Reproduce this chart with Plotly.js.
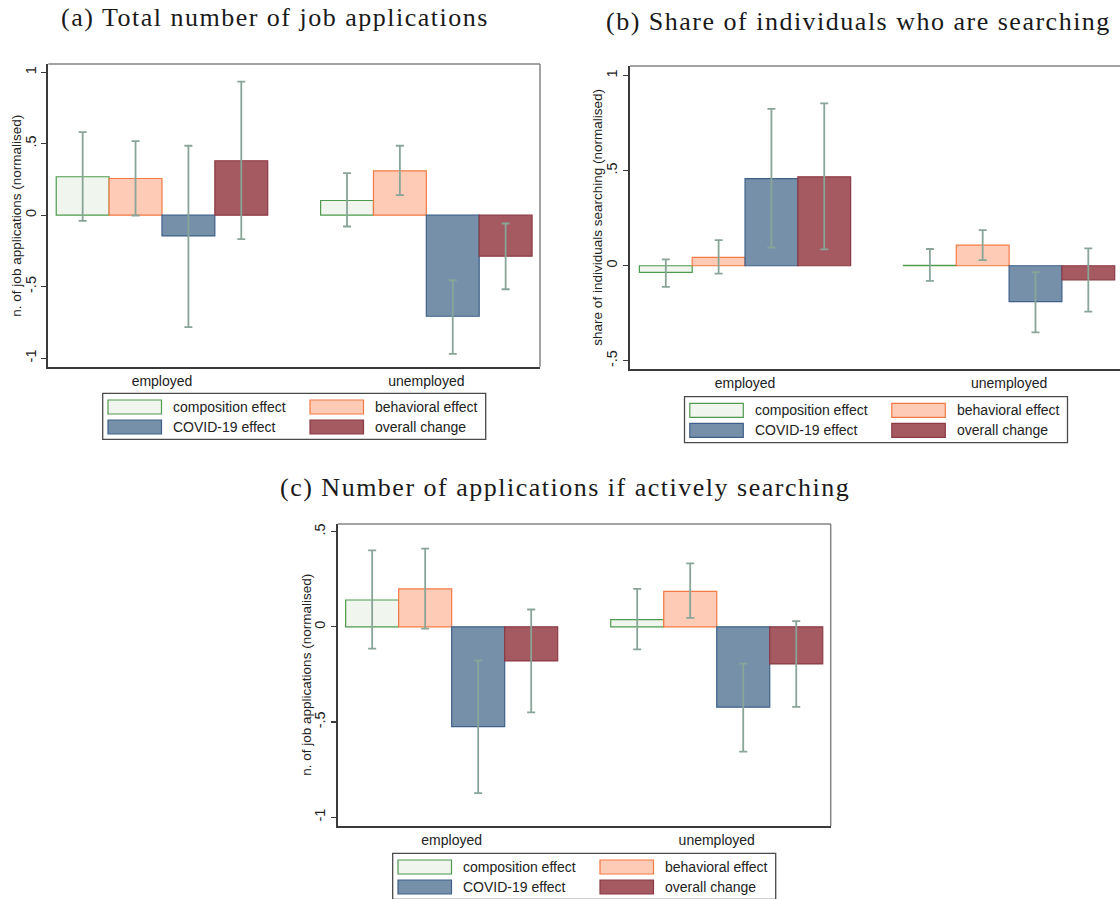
<!DOCTYPE html>
<html>
<head>
<meta charset="utf-8">
<script src="https://cdn.plot.ly/plotly-3.0.1.min.js"></script>
<style>
  html, body { margin: 0; padding: 0; background: #fff; }
  #chart { width: 1120px; height: 899px; }
</style>
</head>
<body>
<div id="chart"></div>
<script>
// ---- data ----
const groups = ['employed', 'unemployed'];
const seriesNames = ['composition effect', 'behavioral effect', 'COVID-19 effect', 'overall change'];
const yTickVals = [1, 0.5, 0, -0.5, -1];
const yTickText = ['1', '.5', '0', '-.5', '-1'];

// (a) total number of job applications: estimate, upper and lower bound
const aComp = [0.269, 0.103],   aCompHi = [0.581, 0.294],   aCompLo = [-0.040, -0.079];
const aBehav = [0.257, 0.310],  aBehavHi = [0.519, 0.486],  aBehavLo = [-0.002, 0.140];
const aCovid = [-0.145, -0.707], aCovidHi = [0.486, -0.455], aCovidLo = [-0.783, -0.970];
const aOverall = [0.381, -0.287], aOverallHi = [0.934, -0.058], aOverallLo = [-0.168, -0.518];

// (b) share of individuals who are searching
const bComp = [-0.035, 0.002],  bCompHi = [0.033, 0.088],   bCompLo = [-0.111, -0.080];
const bBehav = [0.044, 0.108],  bBehavHi = [0.135, 0.187],  bBehavLo = [-0.042, 0.030];
const bCovid = [0.458, -0.189], bCovidHi = [0.825, -0.034], bCovidLo = [0.096, -0.351];
const bOverall = [0.468, -0.075], bOverallHi = [0.854, 0.091], bOverallLo = [0.086, -0.241];

// (c) number of applications if actively searching
const cComp = [0.141, 0.038],   cCompHi = [0.402, 0.199],   cCompLo = [-0.115, -0.118];
const cBehav = [0.199, 0.186],  cBehavHi = [0.411, 0.333],  cBehavLo = [-0.009, 0.047];
const cCovid = [-0.524, -0.422], cCovidHi = [-0.176, -0.193], cCovidLo = [-0.873, -0.655];
const cOverall = [-0.179, -0.195], cOverallHi = [0.091, 0.030], cOverallLo = [-0.449, -0.420];

const panelTitles = [
  '(a) Total number of job applications',
  '(b) Share of individuals who are searching',
  '(c) Number of applications if actively searching'
];
const yTitles = [
  'n. of job applications (normalised)',
  'share of individuals searching (normalised)',
  'n. of job applications (normalised)'
];

// ---- styles ----
const W = 1120, H = 899;
const px = v => v / W;
const py = v => 1 - v / H;
const fills = ['#f0f5ee', '#fdcbb6', '#7690aa', '#a45a60'];
const edges = ['#4e9a4e', '#f47a45', '#3f6088', '#8c3a44'];
const errColor = '#88a597';
const sans = 'Liberation Sans, Arial, sans-serif';
const serif = 'Liberation Serif, Times New Roman, serif';

function barTraces(sets, xa, ya) {
  return sets.map((s, i) => ({
    type: 'bar',
    x: [0, 1],
    y: s[0],
    name: seriesNames[i],
    xaxis: xa, yaxis: ya,
    showlegend: false,
    marker: { color: fills[i], line: { color: edges[i], width: 1.2 } },
    error_y: {
      type: 'data', symmetric: false,
      array: s[1].map((h, k) => h - s[0][k]),
      arrayminus: s[2].map((l, k) => s[0][k] - l),
      color: errColor, thickness: 1.8, width: 4
    },
    hoverinfo: 'skip'
  }));
}

const data = [].concat(
  barTraces([[aComp, aCompHi, aCompLo], [aBehav, aBehavHi, aBehavLo],
             [aCovid, aCovidHi, aCovidLo], [aOverall, aOverallHi, aOverallLo]], 'x', 'y'),
  barTraces([[bComp, bCompHi, bCompLo], [bBehav, bBehavHi, bBehavLo],
             [bCovid, bCovidHi, bCovidLo], [bOverall, bOverallHi, bOverallLo]], 'x2', 'y2'),
  barTraces([[cComp, cCompHi, cCompLo], [cBehav, cBehavHi, cBehavLo],
             [cCovid, cCovidHi, cCovidLo], [cOverall, cOverallHi, cOverallLo]], 'x3', 'y3')
);

// panel boxes in pixels: left, right, top, bottom, and axis ranges
const panels = [
  { l: 48.3, r: 540, t: 64, b: 366.7, xr: [-0.43, 1.43], yr: [-1.06, 1.058], right: true,
    legL: 102.7, legT: 393.3, titleX: 275, titleY: 18 },
  { l: 630, r: 1120, t: 66, b: 369.3, xr: [-0.4356, 1.42], yr: [-0.545, 1.051], right: false,
    legL: 684.5, legT: 396.7, titleX: 858, titleY: 21 },
  { l: 337.7, r: 830.7, t: 524, b: 826, xr: [-0.43, 1.43], yr: [-1.046, 0.540], right: true,
    legL: 392.7, legT: 853.3, titleX: 565, titleY: 487 }
];

const layout = {
  width: W, height: H,
  margin: { l: 0, r: 0, t: 0, b: 0 },
  paper_bgcolor: '#fff', plot_bgcolor: '#fff',
  barmode: 'group', bargap: 0.2, bargroupgap: 0,
  showlegend: false,
  font: { family: sans, size: 14, color: '#222' },
  shapes: [], annotations: []
};

panels.forEach((p, i) => {
  const sfx = i === 0 ? '' : String(i + 1);
  layout['xaxis' + sfx] = {
    domain: [px(p.l), px(p.r)], range: p.xr, anchor: 'y' + sfx,
    tickmode: 'array', tickvals: [0, 1], ticktext: groups, ticks: '',
    ticklabelstandoff: 0,
    showline: true, linecolor: '#3a3a3a', linewidth: 2,
    showgrid: false, zeroline: false, fixedrange: true,
    tickfont: { family: sans, size: 14, color: '#222' }
  };
  layout['yaxis' + sfx] = {
    domain: [py(p.b), py(p.t)], range: p.yr, anchor: 'x' + sfx,
    tickmode: 'array', tickvals: yTickVals, ticktext: yTickText,
    ticks: 'outside', ticklen: 5, tickwidth: 1.2, tickcolor: '#3a3a3a', tickangle: -90,
    showline: true, linecolor: '#3a3a3a', linewidth: 2,
    showgrid: false, zeroline: false, fixedrange: true,
    tickfont: { family: sans, size: 14.5, color: '#222' }
  };
  // lighter top and right frame lines
  layout.shapes.push({ type: 'line', xref: 'paper', yref: 'paper',
    x0: px(p.l), x1: px(p.r), y0: py(p.t), y1: py(p.t),
    line: { color: '#858585', width: 1.5 } });
  if (p.right) {
    layout.shapes.push({ type: 'line', xref: 'paper', yref: 'paper',
      x0: px(p.r), x1: px(p.r), y0: py(p.t), y1: py(p.b),
      line: { color: '#858585', width: 1.5 } });
  }
  // panel title
  layout.annotations.push({ xref: 'paper', yref: 'paper', x: px(p.titleX), y: py(p.titleY),
    xanchor: 'center', yanchor: 'middle', showarrow: false,
    text: '<span style="letter-spacing:1.5px">' + panelTitles[i] + '</span>',
    font: { family: serif, size: 26, color: '#1a1a1a' } });
  // y axis title
  layout.annotations.push({ xref: 'paper', yref: 'paper',
    x: px(p.l - 32), y: py((p.t + p.b) / 2),
    xanchor: 'center', yanchor: 'middle', showarrow: false, textangle: -90,
    text: yTitles[i], font: { family: sans, size: 13.5, color: '#222' } });
  // legend box
  const L = p.legL, T = p.legT;
  layout.shapes.push({ type: 'rect', xref: 'paper', yref: 'paper',
    x0: px(L), x1: px(L + 383), y0: py(T), y1: py(T + 46),
    line: { color: '#4a4a4a', width: 1.3 }, fillcolor: '#fff' });
  seriesNames.forEach((name, k) => {
    const col = k % 2, row = Math.floor(k / 2);
    const sx = L + 5.3 + col * 202, sy = T + 6.7 + row * 20;
    layout.shapes.push({ type: 'rect', xref: 'paper', yref: 'paper',
      x0: px(sx), x1: px(sx + 53.5), y0: py(sy), y1: py(sy + 14),
      line: { color: edges[k], width: 1.2 }, fillcolor: fills[k] });
    layout.annotations.push({ xref: 'paper', yref: 'paper',
      x: px(sx + 63), y: py(sy + 7), xanchor: 'left', yanchor: 'middle',
      showarrow: false, text: name, font: { family: sans, size: 14, color: '#222' } });
  });
});

Plotly.newPlot('chart', data, layout, { staticPlot: true, displayModeBar: false });
</script>
</body>
</html>
